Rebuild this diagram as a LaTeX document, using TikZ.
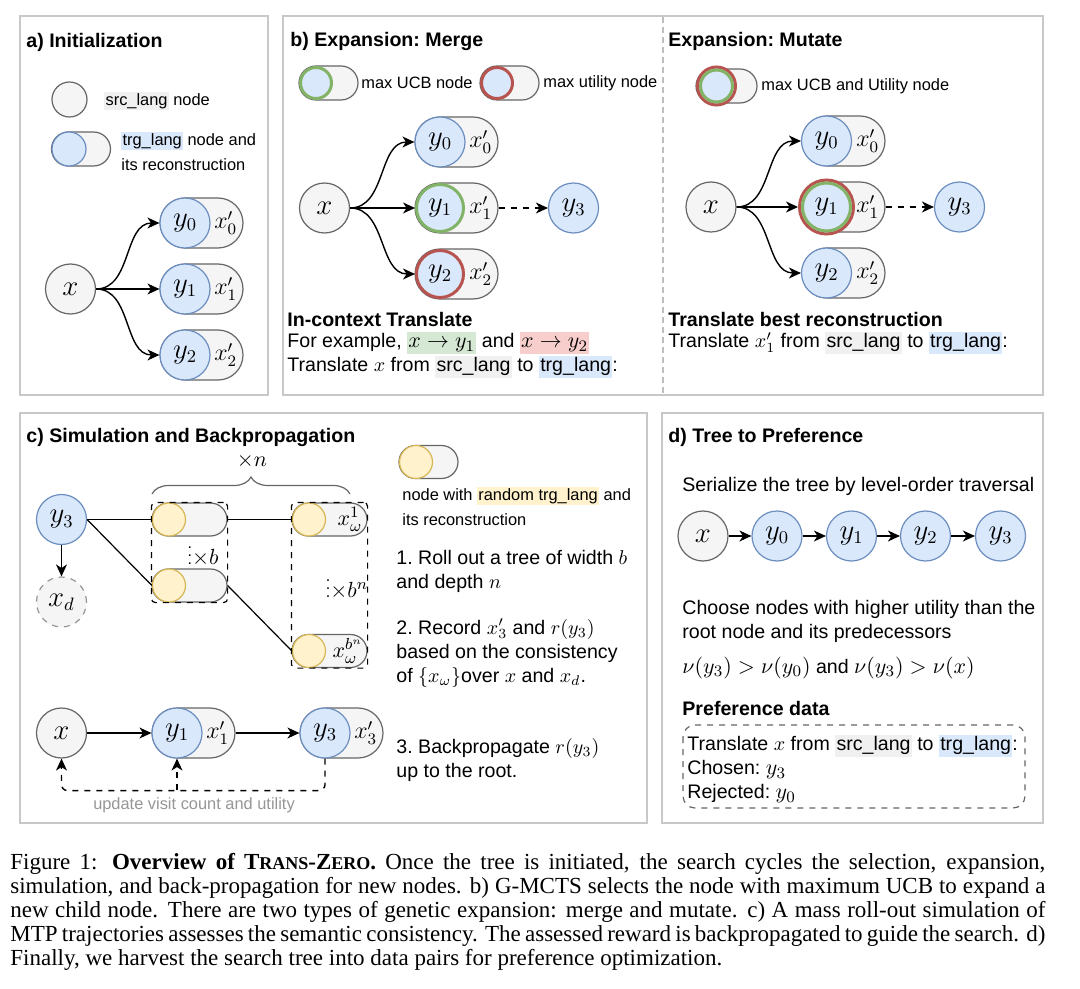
\documentclass[tikz,border=0pt]{standalone}
\usepackage{amsmath,amssymb}
\usepackage[no-math]{fontspec}
\setmainfont{Liberation Sans}
\newfontfamily\capfont{Liberation Serif}
\usepackage{xcolor}
\definecolor{gfill}{RGB}{245,245,245}
\definecolor{gline}{RGB}{102,102,102}
\definecolor{bfill}{RGB}{218,232,252}
\definecolor{bline}{RGB}{108,142,191}
\definecolor{grn}{RGB}{130,179,102}
\definecolor{lgrn}{RGB}{213,232,212}
\definecolor{rd}{RGB}{184,84,80}
\definecolor{lrd}{RGB}{248,206,204}
\definecolor{yfill}{RGB}{255,242,204}
\definecolor{yline}{RGB}{214,182,86}
\definecolor{hgray}{RGB}{240,240,240}
\definecolor{pframe}{RGB}{200,200,200}
\definecolor{ngray}{RGB}{150,150,150}
\usepackage{tikz}
\usetikzlibrary{arrows.meta,shapes.misc,positioning,calc,decorations.pathreplacing,fit}
\newcommand{\hlbox}[2]{{\setlength{\fboxsep}{0.6pt}\colorbox{#1}{\rule[-0.24em]{0pt}{0.98em}#2}}}
\newcommand{\lgmath}[1]{{\fontsize{11}{12}\selectfont$#1$}}

\begin{document}
\begin{tikzpicture}[x=0.5pt,y=-0.5pt,
  panel/.style={draw=pframe,line width=0.6pt},
  snode/.style={circle,draw=gline,fill=gfill,line width=0.6pt,minimum size=25pt,inner sep=0pt,font=\fontsize{13.5}{15}\selectfont},
  tnode/.style={snode,draw=bline,fill=bfill},
  ucb/.style={draw=grn,line width=1.5pt,minimum size=23.5pt},
  utl/.style={draw=rd,line width=1.5pt,minimum size=23.5pt},
  ring/.style={circle,draw=grn,line width=1.5pt,inner sep=0pt,font=\fontsize{13.5}{15}\selectfont},
  pill/.style={rounded rectangle,draw=gline,fill=gfill,line width=0.6pt,minimum width=41.5pt,minimum height=25pt,inner sep=0pt},
  spill/.style={pill,minimum width=29.5pt,minimum height=17pt},
  ypill/.style={pill,minimum width=37.5pt,minimum height=16.5pt},
  ynode/.style={circle,draw=yline,fill=yfill,line width=0.6pt,minimum size=16.5pt,inner sep=0pt},
  recon/.style={anchor=east,inner sep=0pt,font=\fontsize{12}{14}\selectfont},
  grp/.style={draw,dashed,line width=0.6pt,rounded corners=2pt,inner sep=0pt},
  arr/.style={-{Stealth[length=6pt,width=5.5pt,inset=1.8pt]},line width=0.7pt},
  ln/.style={line width=0.6pt},
  fb/.style={arr,dashed,rounded corners=3pt},
  mult/.style={inner sep=0pt,font=\fontsize{11}{13}\selectfont},
  ttl/.style={anchor=west,inner sep=0pt,font=\frenchspacing\bfseries\fontsize{9.8}{12}\selectfont},
  txt/.style={anchor=west,align=left,inner sep=0pt,font=\frenchspacing\fontsize{9.8}{12}\selectfont},
  lgd/.style={anchor=west,align=left,inner sep=0pt,font=\frenchspacing\fontsize{8.2}{12.5}\selectfont},
  captext/.style={anchor=north west,inner sep=0pt,text width=517.5pt,align=justify,font=\capfont\fontsize{11.5}{12}\selectfont}]

  \fill[white] (0,0) rectangle (1080,989);

  % a) initialization
  \draw[panel] (20,16) rectangle (268,395);
  \node[ttl] (ta) at (26,42) {a) Initialization};
  \node[snode,minimum size=17.5pt] (lsrc) at (69.5,99.5) {};
  \node[lgd] (lsrct) at (104,101) {\hlbox{hgray}{src\_lang} node};
  \node[spill] (ltrgp) at (81,149) {};
  \node[tnode,minimum size=17pt] (ltrg) at (69,149) {};
  \node[lgd] (ltrgt) at (121,151) {\hlbox{bfill}{trg\_lang} node and\\its reconstruction};
  \node[snode] (xa) at (70.5,289) {$x$};
  \foreach \i/\yy in {0/223,1/289,2/355}{
    \node[pill] (pa\i) at (201.5,\yy) {};
    \node[tnode] (ya\i) at (185,\yy) {$y_\i$};
    \node[recon] at ([xshift=-3pt]pa\i.east) {$x'_\i$};
    \draw[arr] (xa.east) to[out=0,in=180] (ya\i.west);
  }

  % b) expansion: merge
  \draw[panel] (283,16) rectangle (1043,395);
  \draw[dashed,gray!50,line width=0.6pt,dash pattern=on 3pt off 2pt] (663,17) -- (663,394);
  \node[ttl] (tb) at (290,41) {b) Expansion: Merge};
  \node[spill] (lmp1) at (328.5,83) {};
  \node[tnode,ucb,minimum size=15.5pt] (lm1) at (316,83) {};
  \node[lgd] (lm1t) at (361,83) {max UCB node};
  \node[spill] (lmp2) at (509.5,83) {};
  \node[tnode,utl,minimum size=15.5pt] (lm2) at (497,83) {};
  \node[lgd] (lm2t) at (543,83) {max utility node};
  \node[snode] (xb) at (324.5,208) {$x$};
  \node[pill] (pb0) at (456.5,142) {};
  \node[tnode] (yb0) at (440,142) {$y_0$};
  \node[recon] at ([xshift=-3pt]pb0.east) {$x'_0$};
  \node[pill] (pb1) at (456.5,208) {};
  \node[tnode,ucb] (yb1) at (440,208) {$y_1$};
  \node[recon] at ([xshift=-3pt]pb1.east) {$x'_1$};
  \node[pill] (pb2) at (456.5,274) {};
  \node[tnode,utl] (yb2) at (440,274) {$y_2$};
  \node[recon] at ([xshift=-3pt]pb2.east) {$x'_2$};
  \node[tnode] (yb3) at (573.5,208) {$y_3$};
  \foreach \i in {0,1,2}
    \draw[arr] (xb.east) to[out=0,in=180] (yb\i.west);
  \draw[arr,dashed] (pb1.east) -- (yb3.west);
  \node[ttl] at (287,319) {In-context Translate};
  \node[txt] at (287,343) {For example, \hlbox{lgrn}{\lgmath{x\to y_1}} and \hlbox{lrd}{\lgmath{x\to y_2}}};
  \node[txt] at (287,367) {Translate $x$ from \hlbox{hgray}{src\_lang} to \hlbox{bfill}{trg\_lang}:};

  % b) expansion: mutate
  \node[ttl] (tm) at (668,41) {Expansion: Mutate};
  \node[pill,minimum width=30.5pt,minimum height=17pt] (lmp3) at (726.5,86) {};
  \node[tnode,utl,minimum size=19pt] (lm3) at (716.5,86) {};
  \node[ring,minimum size=16pt] (lm3g) at (lm3) {};
  \node[lgd] (lm3t) at (761,86) {max UCB and Utility node};
  \node[snode] (xm) at (711,207) {$x$};
  \node[pill] (pm0) at (843.5,141) {};
  \node[tnode] (ym0) at (826.5,141) {$y_0$};
  \node[recon] at ([xshift=-3pt]pm0.east) {$x'_0$};
  \node[pill] (pm1) at (843.5,207) {};
  \node[tnode,utl,minimum size=27pt] (ym1) at (826.5,207) {};
  \node[ring,minimum size=24pt] (ym1g) at (ym1) {$y_1$};
  \node[recon] at ([xshift=-3pt]pm1.east) {$x'_1$};
  \node[pill] (pm2) at (843.5,273) {};
  \node[tnode] (ym2) at (826.5,273) {$y_2$};
  \node[recon] at ([xshift=-3pt]pm2.east) {$x'_2$};
  \node[tnode] (ym3) at (959.5,207) {$y_3$};
  \foreach \i in {0,1,2}
    \draw[arr] (xm.east) to[out=0,in=180] (ym\i.west);
  \draw[arr,dashed] (pm1.east) -- (ym3.west);
  \node[ttl] at (668,319) {Translate best reconstruction};
  \node[txt] at (668,343) {Translate $x'_1$ from \hlbox{hgray}{src\_lang} to \hlbox{bfill}{trg\_lang}:};

  % c) simulation and backpropagation
  \draw[panel] (20,413) rectangle (647,823);
  \node[ttl] (tc) at (26,437) {c) Simulation and Backpropagation};
  \node[tnode] (y3c) at (61.5,519.5) {$y_3$};
  \node[snode,dashed,draw=ngray] (xdc) at (61.5,602) {$x_d$};
  \draw[arr] (y3c) -- (xdc);
  \draw[gline,line width=0.6pt,decorate,decoration={brace,amplitude=8.5pt}] (152,494) -- (350,494);
  \node[mult] (brn) at (252,461) {$\times n$};
  % roll-out tree
  \node[ypill] (c1) at (189.5,519.5) {};
  \node[ynode] (c1c) at (169,519.5) {};
  \node[ypill] (c2) at (189.5,585.5) {};
  \node[ynode] (c2c) at (169,585.5) {};
  \node[ypill] (c3) at (329.5,519.5) {};
  \node[ynode] (c3c) at (309,519.5) {};
  \node[recon,font=\fontsize{11}{13}\selectfont] at ([xshift=-2.5pt]c3.east) {$x_\omega^1$};
  \node[ypill] (c4) at (329.5,651) {};
  \node[ynode] (c4c) at (309,651) {};
  \node[recon,font=\fontsize{11}{13}\selectfont] at ([xshift=-2pt]c4.east) {$x_\omega^{b^n}$};
  \node[grp,fit=(c1)(c2)] (g1) {};
  \node[grp,fit=(c3)(c4)] (g2) {};
  \node[mult] (nb) at (203,551) {{\fontsize{8}{8}\selectfont$\vdots$}$\mathord{\times}b$};
  \node[mult] (nbn) at (347,584) {{\fontsize{8}{8}\selectfont$\vdots$}$\mathord{\times}b^n$};
  \draw[ln] (y3c.east) -- (c1c.west);
  \draw[ln] (y3c.east) -- (c2c.west);
  \draw[ln] (c1.east) -- (c3c.west);
  \draw[ln] (c2.east) -- (c4c.west);
  % backpropagation path
  \node[snode] (xc) at (61.5,733) {$x$};
  \node[pill] (pc1) at (193.5,733) {};
  \node[tnode] (y1c) at (177,733) {$y_1$};
  \node[recon] at ([xshift=-3pt]pc1.east) {$x'_1$};
  \node[pill] (pc3) at (341.5,733) {};
  \node[tnode] (y3d) at (325,733) {$y_3$};
  \node[recon] at ([xshift=-3pt]pc3.east) {$x'_3$};
  \draw[arr] (xc) -- (y1c);
  \draw[arr] (pc1.east) -- (y3d.west);
  \coordinate (fbm) at (177,790);
  \draw[fb] (y3d.south) -- ++(0,32) -| (xc.south);
  \draw[fb] (fbm) -- (y1c.south);
  \node[lgd,anchor=center,text=ngray] (upd) at (194,805) {update visit count and utility};
  % legend and steps
  \node[ypill,minimum width=29.5pt] (lyp) at (428.5,462) {};
  \node[ynode] (ly) at (416,462) {};
  \node[lgd] (lyt) at (402,506) {node with \hlbox{yfill}{random trg\_lang} and\\its reconstruction};
  \node[txt] (st1) at (396,571) {1. Roll out a tree of width $b$\\and depth $n$};
  \node[txt] (st2) at (396,653) {2. Record $x'_3$ and $r(y_3)$\\based on the consistency\\of $\{x_\omega\}$over $x$ and $x_d$.};
  \node[txt] (st3) at (396,760) {3. Backpropagate $r(y_3)$\\up to the root.};

  % d) tree to preference
  \draw[panel] (662,413) rectangle (1043,823);
  \node[ttl] (td) at (668,437) {d) Tree to Preference};
  \node[txt] at (682,486) {Serialize the tree by level-order traversal};
  \node[snode] (sx) at (703,536) {$x$};
  \node[tnode] (s0) at (777,536) {$y_0$};
  \node[tnode] (s1) at (851.5,536) {$y_1$};
  \node[tnode] (s2) at (925.5,536) {$y_2$};
  \node[tnode] (s3) at (1000.5,536) {$y_3$};
  \foreach \a/\b in {sx/s0,s0/s1,s1/s2,s2/s3}
    \draw[arr] (\a) -- (\b);
  \node[txt] at (682,621) {Choose nodes with higher utility than the\\root node and its predecessors};
  \node[txt] at (682,668) {\lgmath{\nu(y_3)>\nu(y_0)} and \lgmath{\nu(y_3)>\nu(x)}};
  \node[ttl] at (682,708) {Preference data};
  \draw[gline,dashed,line width=0.6pt,rounded corners=6pt] (683,725) rectangle (1025,808);
  \node[txt] (pd) at (687,769) {Translate $x$ from \hlbox{hgray}{src\_lang} to \hlbox{bfill}{trg\_lang}:\\Chosen: \lgmath{y_3}\\Rejected: \lgmath{y_0}};

  % caption
  \node[captext] (capt) at (10,853) {Figure 1: \textbf{Overview of T{\fontsize{9}{12}\selectfont RANS}-Z{\fontsize{9}{12}\selectfont ERO}.} Once the tree is initiated, the search cycles the selection, expansion,\linebreak simulation, and back-propagation for new nodes. b) G-MCTS selects the node with maximum UCB to expand a\linebreak new child node. There are two types of genetic expansion: merge and mutate. c) A mass roll-out simulation of\linebreak MTP trajectories assesses the semantic consistency. The assessed reward is backpropagated to guide the search. d)\linebreak Finally, we harvest the search tree into data pairs for preference optimization.};
\end{tikzpicture}
\end{document}
